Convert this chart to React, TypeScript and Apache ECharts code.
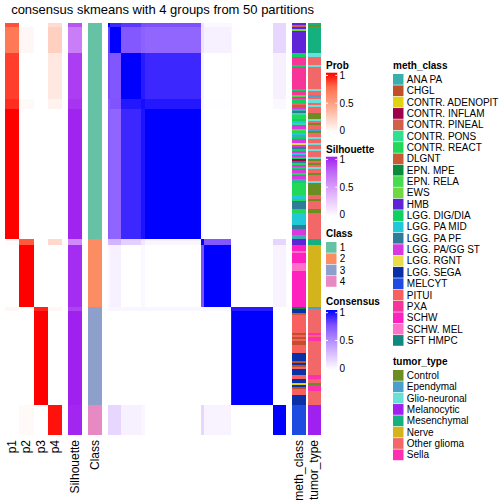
import React, { useEffect, useRef } from "react";
import * as echarts from "echarts";

// ---------- data ----------
const N = 206; // number of samples
// sample segments in row/column order
const segSizes = [2, 13, 23, 5, 65, 3, 31, 2, 47, 15];
const segClass = [1, 1, 1, 1, 1, 2, 2, 3, 3, 4];

const probLabels = ["p1", "p2", "p3", "p4"];
const probP1 = [0.82, 0.7, 0.86, 0.9, 1.0, 0.02, 0, 0.04, 0, 0];
const probP2 = [0, 0.04, 0, 0.03, 0, 0.8, 1.0, 0, 0, 0.03];
const probP3 = [0, 0, 0, 0, 0, 0, 0, 0.92, 1.0, 0];
const probP4 = [0.18, 0.25, 0.12, 0.06, 0, 0.2, 0, 0.04, 0, 0.96];
const silhouette = [0.82, 0.64, 0.9, 0.93, 0.99, 0.58, 0.96, 0.88, 1.0, 0.98];

// consensus between segments (rows x columns)
const consensus = [
  [1.0, 0.88, 0.82, 0.76, 0.75, 0.12, 0.03, 0.04, 0, 0.17],
  [0.8, 1.0, 0.72, 0.68, 0.66, 0.12, 0.06, 0.04, 0, 0.17],
  [0.76, 0.73, 1.0, 0.92, 0.88, 0.05, 0, 0.03, 0, 0.06],
  [0.7, 0.74, 0.93, 0.96, 0.93, 0.04, 0.01, 0.03, 0, 0.03],
  [0.69, 0.67, 0.88, 0.94, 1.0, 0.03, 0, 0.02, 0, 0],
  [0.3, 0.32, 0.2, 0.1, 0.04, 1.0, 0.72, 0, 0, 0.18],
  [0.03, 0.06, 0, 0.03, 0, 0.75, 1.0, 0, 0, 0.05],
  [0.04, 0.04, 0.04, 0.04, 0.04, 0.03, 0.03, 0.94, 0.92, 0],
  [0, 0, 0, 0, 0, 0, 0, 0.92, 1.0, 0],
  [0.17, 0.17, 0.06, 0.04, 0, 0.17, 0.05, 0, 0, 1.0],
];

const classLabels = ["1", "2", "3", "4"];
const classColors = ["#66C2A5", "#FC8D62", "#8DA0CB", "#E78AC3"];

const methClasses = [
  "ANA PA", "CHGL", "CONTR. ADENOPIT", "CONTR. INFLAM", "CONTR. PINEAL", "CONTR. PONS",
  "CONTR. REACT", "DLGNT", "EPN. MPE", "EPN. RELA", "EWS", "HMB", "LGG. DIG/DIA",
  "LGG. PA MID", "LGG. PA PF", "LGG. PA/GG ST", "LGG. RGNT", "LGG. SEGA", "MELCYT",
  "PITUI", "PXA", "SCHW", "SCHW. MEL", "SFT HMPC",
];
const methColors = [
  "#37B0AE", "#C0502A", "#E2D214", "#A0004A", "#D0604A", "#30E090",
  "#22D858", "#C85A36", "#0A8A3C", "#48DA50", "#70D840", "#6024D8", "#10D060",
  "#20C8D8", "#2E7C98", "#D838E0", "#E8DC48", "#0A30A8", "#1E4CE0",
  "#F86060", "#F8349A", "#FF20C0", "#FF70C8", "#108880",
];

const tumorTypes = ["Control", "Ependymal", "Glio-neuronal", "Melanocytic", "Mesenchymal", "Nerve", "Other glioma", "Sella"];
const tumorColors = ["#6A8E22", "#4AA0CC", "#68E0D8", "#A020F0", "#14B080", "#D4B41C", "#F26868", "#FF30B0"];

const methRuns: [string, number][] = [
  ["HMB", 1], ["CONTR. PINEAL", 1], ["HMB", 1], ["EWS", 1], ["HMB", 11], ["LGG. DIG/DIA", 2], ["PXA", 4],
  ["LGG. DIG/DIA", 1], ["PXA", 11], ["LGG. DIG/DIA", 1], ["PXA", 2], ["EPN. RELA", 1], ["PXA", 1],
  ["LGG. DIG/DIA", 2], ["PITUI", 1], ["DLGNT", 1], ["LGG. PA/GG ST", 1], ["ANA PA", 1], ["LGG. PA PF", 1],
  ["CONTR. PONS", 1], ["CONTR. REACT", 2], ["LGG. DIG/DIA", 1], ["LGG. PA MID", 1], ["CONTR. PONS", 1],
  ["LGG. PA/GG ST", 2], ["EPN. RELA", 1], ["CONTR. REACT", 1], ["LGG. PA MID", 1], ["ANA PA", 1],
  ["LGG. DIG/DIA", 1], ["LGG. PA/GG ST", 2], ["LGG. RGNT", 1], ["LGG. PA/GG ST", 1], ["LGG. PA PF", 1],
  ["LGG. DIG/DIA", 1], ["LGG. PA/GG ST", 1], ["LGG. PA MID", 1], ["LGG. PA/GG ST", 1], ["LGG. DIG/DIA", 1],
  ["CONTR. INFLAM", 1], ["LGG. PA PF", 1], ["CONTR. REACT", 1], ["LGG. PA/GG ST", 1], ["LGG. DIG/DIA", 1],
  ["LGG. PA/GG ST", 2], ["CONTR. REACT", 1], ["LGG. PA/GG ST", 2], ["ANA PA", 1], ["LGG. DIG/DIA", 1],
  ["CONTR. REACT", 6], ["LGG. PA MID", 2], ["CONTR. REACT", 1], ["LGG. PA PF", 4], ["CONTR. REACT", 2],
  ["LGG. PA MID", 6], ["LGG. PA PF", 2], ["LGG. PA/GG ST", 3], ["ANA PA", 2],
  ["HMB", 3], ["SCHW", 3], ["SCHW. MEL", 1], ["SCHW", 5], ["SCHW. MEL", 4], ["SCHW", 18],
  ["EPN. MPE", 1], ["LGG. SEGA", 2], ["DLGNT", 1], ["PITUI", 9], ["CHGL", 1], ["PITUI", 1], ["CHGL", 1],
  ["PITUI", 1], ["CHGL", 2], ["PITUI", 4], ["LGG. SEGA", 4], ["CHGL", 1], ["LGG. SEGA", 1], ["CHGL", 1],
  ["PITUI", 1], ["LGG. SEGA", 3], ["PITUI", 2], ["LGG. SEGA", 2], ["CONTR. ADENOPIT", 1], ["LGG. SEGA", 1],
  ["CHGL", 1], ["PITUI", 3], ["LGG. SEGA", 5],
  ["MELCYT", 15],
];

const tumorRuns: [string, number][] = [
  ["Mesenchymal", 1], ["Control", 1], ["Mesenchymal", 13], ["Glio-neuronal", 2], ["Other glioma", 4],
  ["Glio-neuronal", 1], ["Other glioma", 11], ["Glio-neuronal", 1], ["Other glioma", 2], ["Ependymal", 1],
  ["Other glioma", 1], ["Glio-neuronal", 2], ["Other glioma", 1], ["Glio-neuronal", 1], ["Other glioma", 3],
  ["Control", 3], ["Glio-neuronal", 1], ["Other glioma", 1], ["Control", 1], ["Other glioma", 2],
  ["Ependymal", 1], ["Control", 1], ["Other glioma", 2], ["Glio-neuronal", 1], ["Other glioma", 2],
  ["Glio-neuronal", 1], ["Other glioma", 2], ["Glio-neuronal", 1], ["Other glioma", 3], ["Glio-neuronal", 1],
  ["Control", 1], ["Other glioma", 1], ["Control", 1], ["Other glioma", 1], ["Glio-neuronal", 1],
  ["Other glioma", 2], ["Control", 1], ["Other glioma", 3], ["Glio-neuronal", 1], ["Control", 6],
  ["Other glioma", 2], ["Control", 1], ["Other glioma", 4], ["Control", 2], ["Other glioma", 13],
  ["Mesenchymal", 3], ["Nerve", 31],
  ["Ependymal", 1], ["Other glioma", 12], ["Sella", 1], ["Other glioma", 1], ["Sella", 2], ["Other glioma", 17],
  ["Sella", 2], ["Other glioma", 2], ["Control", 1], ["Sella", 3], ["Other glioma", 7],
  ["Melanocytic", 15],
];

const legendTicks = ["1", "0.5", "0"];

// ---------- colour ramps (white -> colour, LAB-like) ----------
const probRamp = ["#FFFFFF", "#FFCFBF", "#FF9E81", "#FF704D", "#FF0000"];
const silRamp = ["#FFFFFF", "#EDCDFD", "#D79BFA", "#BE68F5", "#A020F0"];
const consRamp = ["#FFFFFF", "#DCC4FF", "#B38BFF", "#7E51FF", "#0000FF"];

const FONT = "'Liberation Sans', Arial, Helvetica, sans-serif";

export default function App() {
  const ref = useRef<HTMLDivElement>(null);

  useEffect(() => {
    const chart = echarts.init(ref.current!, null, { renderer: "svg" });

    // segment boundaries
    const starts: number[] = [];
    let acc = 0;
    segSizes.forEach((s) => {
      starts.push(acc);
      acc += s;
    });
    const ends = segSizes.map((s, i) => starts[i] + s);

    const probs = [probP1, probP2, probP3, probP4];
    const probData: number[][] = [];
    probs.forEach((arr, p) => arr.forEach((v, i) => probData.push([p, starts[i], ends[i], v])));
    const silData = silhouette.map((v, i) => [0, starts[i], ends[i], v]);
    const classData = segClass.map((c, i) => [0, starts[i], ends[i], c - 1]);
    const consData: number[][] = [];
    consensus.forEach((row, r) =>
      row.forEach((v, c) => consData.push([starts[c], ends[c], starts[r], ends[r], v]))
    );
    const runsToData = (runs: [string, number][], cats: string[]) => {
      const out: number[][] = [];
      let k = 0;
      runs.forEach(([name, n]) => {
        out.push([0, k, k + n, cats.indexOf(name)]);
        k += n;
      });
      return out;
    };
    const methData = runsToData(methRuns, methClasses);
    const tumorData = runsToData(tumorRuns, tumorTypes);

    const colRect = (colorFn: (api: any) => string) => (params: any, api: any) => {
      const xi = api.value(0);
      const a = api.coord([xi, api.value(1)]);
      const b = api.coord([xi, api.value(2)]);
      const w = api.size([1, 0])[0];
      const x0 = Math.round(a[0] - w / 2);
      const x1 = Math.round(a[0] + w / 2);
      const y0 = Math.round(Math.min(a[1], b[1]));
      const y1 = Math.round(Math.max(a[1], b[1]));
      return {
        type: "rect",
        shape: { x: x0, y: y0, width: x1 - x0, height: y1 - y0 },
        style: { fill: colorFn(api) },
      };
    };

    const consRect = (params: any, api: any) => {
      const a = api.coord([api.value(0), api.value(2)]);
      const b = api.coord([api.value(1), api.value(3)]);
      const x0 = Math.round(Math.min(a[0], b[0]));
      const x1 = Math.round(Math.max(a[0], b[0]));
      const y0 = Math.round(Math.min(a[1], b[1]));
      const y1 = Math.round(Math.max(a[1], b[1]));
      return {
        type: "rect",
        shape: { x: x0, y: y0, width: x1 - x0, height: y1 - y0 },
        style: { fill: api.visual("color") },
      };
    };

    const TOP = 23;
    const H = 412;
    const grids = [
      { left: 5, top: TOP, width: 57, height: H },
      { left: 68, top: TOP, width: 14, height: H },
      { left: 88, top: TOP, width: 14, height: H },
      { left: 108, top: TOP, width: 178, height: H },
      { left: 292, top: TOP, width: 13.5, height: H },
      { left: 307.5, top: TOP, width: 13.5, height: H },
    ];
    const catAxis = (gridIndex: number, data: string[]) => ({
      type: "category",
      gridIndex,
      data,
      axisLine: { show: false },
      axisTick: { show: false },
      splitLine: { show: false },
      axisLabel: { rotate: 90, margin: 5, interval: 0, fontSize: 12, color: "#000", fontFamily: FONT },
    });
    const xAxes: any[] = [
      catAxis(0, probLabels),
      catAxis(1, ["Silhouette"]),
      catAxis(2, ["Class"]),
      { type: "value", gridIndex: 3, min: 0, max: N, show: false },
      catAxis(4, ["meth_class"]),
      catAxis(5, ["tumor_type"]),
    ];
    const yAxes: any[] = grids.map((g, i) => ({
      type: "value",
      gridIndex: i,
      min: 0,
      max: N,
      inverse: true,
      show: false,
    }));

    // ---------- legends ----------
    const gfx: any[] = [];
    const text = (x: number, y: number, s: string, size = 10, bold = false, align = "left") =>
      gfx.push({
        type: "text",
        x,
        y,
        silent: true,
        style: {
          text: s,
          fill: "#000",
          fontSize: size,
          fontWeight: bold ? "bold" : "normal",
          fontFamily: FONT,
          textAlign: align,
          align,
          textVerticalAlign: "middle",
          verticalAlign: "middle",
        },
      });

    text(162.5, 9.5, "consensus skmeans with 4 groups from 50 partitions", 13, false, "center");

    const LX = 326;
    const LW = 11.3;
    const BAR = 60;
    const contLegend = (title: string, titleY: number, barTop: number, ramp: string[]) => {
      text(LX, titleY, title, 10, true);
      const stops = ramp
        .map((c, i) => ({ offset: 1 - i / (ramp.length - 1), color: c }))
        .reverse();
      gfx.push({
        type: "rect",
        silent: true,
        shape: { x: LX, y: barTop, width: LW, height: BAR },
        style: { fill: { type: "linear", x: 0, y: 0, x2: 0, y2: 1, colorStops: stops } },
      });
      const ys = [barTop + 2.7, barTop + 30.5, barTop + 58];
      legendTicks.forEach((t, i) => {
        text(LX + LW + 2.3, ys[i], t, 10);
        gfx.push({
          type: "line",
          silent: true,
          shape: { x1: LX, y1: ys[i], x2: LX + 2, y2: ys[i] },
          style: { stroke: "#fff", lineWidth: 1 },
        });
        gfx.push({
          type: "line",
          silent: true,
          shape: { x1: LX + LW - 2, y1: ys[i], x2: LX + LW, y2: ys[i] },
          style: { stroke: "#fff", lineWidth: 1 },
        });
      });
    };
    const PITCH = 11.35;
    const discLegend = (x: number, title: string, titleY: number, labels: string[], colors: string[]) => {
      text(x, titleY, title, 10, true);
      labels.forEach((l, i) => {
        const y = titleY + 9 + i * PITCH;
        gfx.push({
          type: "rect",
          silent: true,
          shape: { x, y, width: LW - 0.8, height: PITCH - 0.6 },
          style: { fill: colors[i] },
        });
        text(x + LW + 2.5, y + PITCH / 2 - 0.3, l, 10);
      });
    };

    contLegend("Prob", 65, 72.7, probRamp);
    contLegend("Silhouette", 149, 156.7, silRamp);
    discLegend(LX, "Class", 233, classLabels, classColors);
    contLegend("Consensus", 301.7, 310, consRamp);
    discLegend(393, "meth_class", 65, methClasses, methColors);
    discLegend(393, "tumor_type", 361, tumorTypes, tumorColors);

    const option: any = {
      animation: false,
      backgroundColor: "#fff",
      grid: grids,
      xAxis: xAxes,
      yAxis: yAxes,
      visualMap: [
        { type: "continuous", show: false, min: 0, max: 1, dimension: 3, seriesIndex: 0, inRange: { color: probRamp } },
        { type: "continuous", show: false, min: 0, max: 1, dimension: 3, seriesIndex: 1, inRange: { color: silRamp } },
        { type: "continuous", show: false, min: 0, max: 1, dimension: 4, seriesIndex: 3, inRange: { color: consRamp } },
      ],
      series: [
        { type: "custom", xAxisIndex: 0, yAxisIndex: 0, silent: true, data: probData, renderItem: colRect((api) => api.visual("color")) },
        { type: "custom", xAxisIndex: 1, yAxisIndex: 1, silent: true, data: silData, renderItem: colRect((api) => api.visual("color")) },
        { type: "custom", xAxisIndex: 2, yAxisIndex: 2, silent: true, data: classData, renderItem: colRect((api) => classColors[api.value(3)]) },
        { type: "custom", xAxisIndex: 3, yAxisIndex: 3, silent: true, data: consData, renderItem: consRect },
        { type: "custom", xAxisIndex: 4, yAxisIndex: 4, silent: true, data: methData, renderItem: colRect((api) => methColors[api.value(3)]) },
        { type: "custom", xAxisIndex: 5, yAxisIndex: 5, silent: true, data: tumorData, renderItem: colRect((api) => tumorColors[api.value(3)]) },
      ],
      graphic: gfx,
    };
    chart.setOption(option);
    return () => chart.dispose();
  }, []);

  return (
    <div
      ref={ref}
      style={{ position: "fixed", left: 0, top: 0, width: 504, height: 504, background: "#fff" }}
    />
  );
}
